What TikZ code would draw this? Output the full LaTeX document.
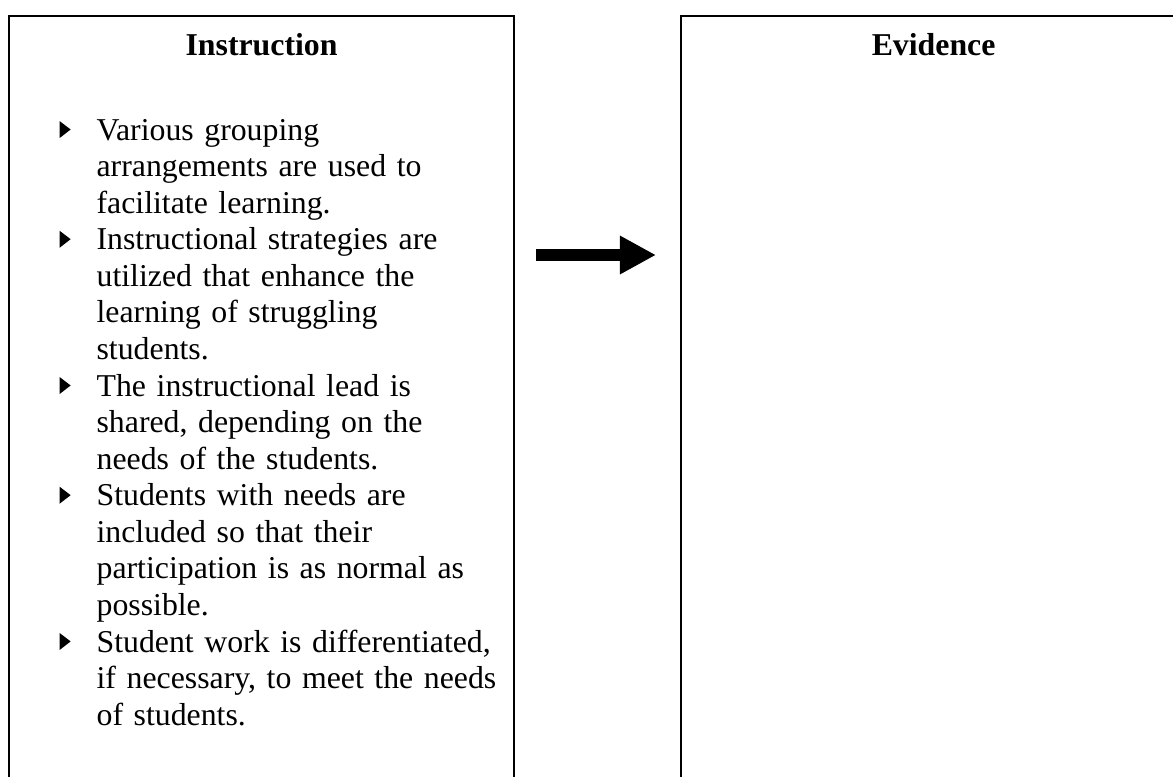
\documentclass[tikz,border=0pt]{standalone}
\usepackage{fontspec}
\setmainfont{Liberation Serif}
\usetikzlibrary{positioning,arrows.meta}

\newcommand{\tribullet}{\tikz[baseline=0pt]\fill (0pt,0.75pt) -- (4.2pt,4pt) -- (0pt,7.2pt) -- cycle;}
\newenvironment{pointlist}{\begin{list}{\tribullet}{\setlength{\leftmargin}{14pt}\setlength{\labelwidth}{14pt}\setlength{\labelsep}{0pt}\setlength{\itemsep}{0pt}\setlength{\parsep}{0pt}\setlength{\topsep}{0pt}\setlength{\partopsep}{0pt}\renewcommand{\makelabel}[1]{##1\hfil}}}{\end{list}}

\begin{document}
\begin{tikzpicture}[x=0.3774pt, y=-0.3774pt, every node/.style={font=\fontsize{12}{13.8}\selectfont},
    panel/.style={draw, line width=0.8pt, minimum width=190.6pt, minimum height=300pt, inner sep=0pt},
    heading/.style={font=\fontsize{12}{13.8}\selectfont\bfseries, inner sep=0pt, anchor=base}]
        \clip (0,0) rectangle (1173,777);
        \node[panel, anchor=north west] (instr) at (8,15) {};
        \node[panel, anchor=north west] (evid) at (680,15) {};

        \node[heading] (instrTitle) at ([yshift=-15.1pt]instr.north) {Instruction};
        \node[heading] (evidTitle) at ([yshift=-15.1pt]evid.north) {Evidence};

        \node[anchor=north west, inner sep=0pt, text width=168pt, align=left] (instrList) at (59,103) {%
            \begin{pointlist}
            \item Various grouping\\arrangements are used to\\facilitate learning.
            \item Instructional strategies are\\utilized that enhance the\\learning of struggling\\students.
            \item The instructional lead is\\shared, depending on the\\needs of the students.
            \item Students with needs are\\included so that their\\participation is as normal as\\possible.
            \item Student work is differentiated,\\if necessary, to meet the needs\\of students.
            \end{pointlist}};

        \coordinate (arrowTail) at (536,255);
        \coordinate (arrowTip) at (656,255);
        \draw[line width=4.9pt, -{Triangle[length=13.6pt, width=13.6pt]}] (arrowTail) -- (arrowTip);
    \end{tikzpicture}
\end{document}
